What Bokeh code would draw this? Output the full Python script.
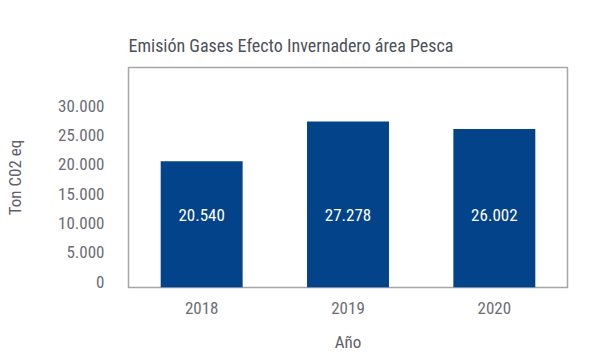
from bokeh.plotting import figure
from bokeh.models import ColumnDataSource, FixedTicker, CustomJSTickFormatter, Range1d
from bokeh.core.properties import value
from bokeh.embed import file_html
from bokeh.resources import INLINE

years = ["2018", "2019", "2020"]
emissions = [20540, 27278, 26002]
y_ticks = [0, 5000, 10000, 15000, 20000, 25000, 30000]

FONT = "'Roboto Condensed', 'DejaVu Sans Condensed', 'Liberation Sans Narrow', Roboto, sans-serif"
GRAY = "#5f6168"
BAR = "#03438a"

labels = [f"{v:,}".replace(",", ".") for v in emissions]
base = -1000
label_y = 11300
src = ColumnDataSource(dict(x=years, top=emissions, lab=labels, ly=[label_y] * len(years)))

p = figure(x_range=years, y_range=Range1d(base, 36500), width=589, height=360,
           output_backend="svg", toolbar_location=None,
           min_border_left=128, min_border_right=22, min_border_top=67, min_border_bottom=73,
           title="Emisión Gases Efecto Invernadero área Pesca")

p.vbar(x="x", top="top", bottom=base, width=0.56, source=src, fill_color=BAR, line_color=None)
p.text(x="x", y="ly", text="lab", source=src, text_color="white", text_align="center",
       text_baseline="middle", text_font=value(FONT), text_font_size="17px")

p.title.text_font = FONT
p.title.text_font_size = "18px"
p.title.text_font_style = "normal"
p.title.text_color = "#4e515a"
p.title.align = "left"
p.title.standoff = 24

p.outline_line_color = "#a6a6a6"
p.outline_line_width = 1.5
p.xgrid.grid_line_color = None
p.ygrid.grid_line_color = None

for ax in (p.xaxis, p.yaxis):
    ax.axis_line_color = None
    ax.major_tick_line_color = None
    ax.minor_tick_line_color = None
    ax.major_label_text_font = FONT
    ax.major_label_text_font_size = "17px"
    ax.major_label_text_color = "#6b6d73"
    ax.axis_label_text_font = FONT
    ax.axis_label_text_font_size = "17px"
    ax.axis_label_text_font_style = "normal"
    ax.axis_label_text_color = GRAY

p.yaxis.ticker = FixedTicker(ticks=y_ticks)
p.yaxis.formatter = CustomJSTickFormatter(code="""
return tick.toString().replace(/\\B(?=(\\d{3})+(?!\\d))/g, ".");
""")
p.yaxis.axis_label = "Ton C02 eq"
p.yaxis.major_label_standoff = 18
p.yaxis.axis_label_standoff = 30
p.xaxis.axis_label = "Año"
p.xaxis.major_label_standoff = 8
p.xaxis.axis_label_standoff = 15

open("out.html", "w").write(file_html(p, INLINE))
